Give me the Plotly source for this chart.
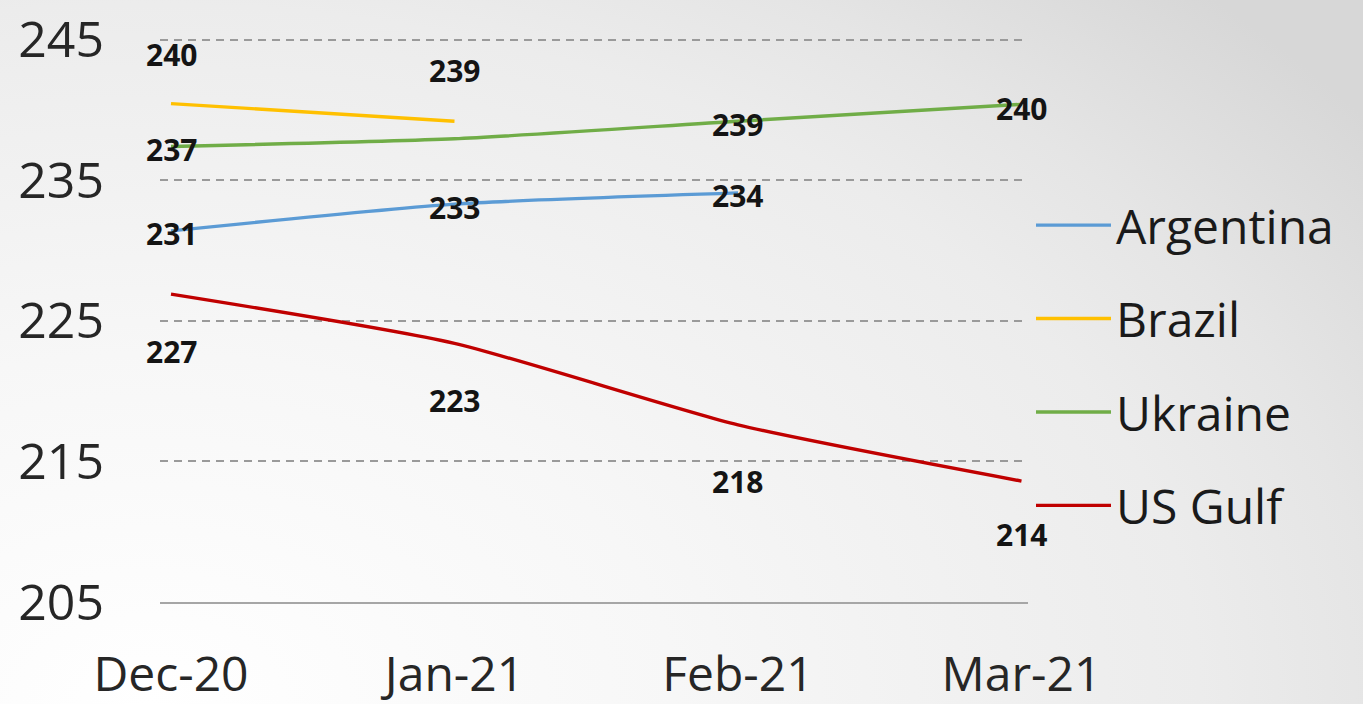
import base64
import plotly.graph_objects as go

# ---------------- data ----------------
months = ["Dec-20", "Jan-21", "Feb-21", "Mar-21"]
argentina = [231.4, 233.3, 234.1]
brazil = [240.45, 239.2]
ukraine = [237.4, 237.95, 239.2, 240.4]
us_gulf = [226.9, 223.4, 217.6, 213.6]
y_ticks = [205, 215, 225, 235, 245]

series_names = ["Argentina", "Brazil", "Ukraine", "US Gulf"]
series_values = [argentina, brazil, ukraine, us_gulf]
# which points carry a value label
label_mask = [
    [True, True, True],
    [True, True],
    [True, False, True, True],
    [True, True, True, True],
]

# ---------------- styles ----------------
colors = ["#5B9BD5", "#FFC000", "#70AD47", "#C00000"]
label_yshift = [
    [-3, -3, -3],
    [49, 51],
    [-3, 0, -3, -4],
    [-57, -57, -57, -53],
]

W, H = 1363, 704
L, R, T, B = 160, 335, 38, 102
plot_w = W - L - R
plot_h = H - T - B
Y_RANGE = [205, 245.12]

FONT = "Open Sans"

fig = go.Figure()
for name, vals, col in zip(series_names, series_values, colors):
    fig.add_trace(go.Scatter(
        x=months[:len(vals)], y=vals, name=name, mode="lines",
        line=dict(color=col, width=3.4, shape="spline", smoothing=0.6),
        legendgroup=name, hoverinfo="skip",
    ))

annotations = []
for vals, mask, shifts in zip(series_values, label_mask, label_yshift):
    for m, v, show, ys in zip(months, vals, mask, shifts):
        if not show:
            continue
        annotations.append(dict(
            x=m, y=v, xref="x", yref="y", text=f"{v:.0f}", showarrow=False,
            yshift=ys, font=dict(family=FONT, size=30, color="#141414", weight="bold"),
        ))

# background gradient as svg image
svg = f"""<svg xmlns='http://www.w3.org/2000/svg' width='{W}' height='{H}' viewBox='0 0 {W} {H}'>
<defs><radialGradient id='g' gradientUnits='userSpaceOnUse' cx='150' cy='704' r='1000'
 gradientTransform='translate(150 704) scale(1.5 1) translate(-150 -704)'>
<stop offset='0' stop-color='#ffffff'/>
<stop offset='0.35' stop-color='#f7f7f7'/>
<stop offset='0.7' stop-color='#ececec'/>
<stop offset='0.82' stop-color='#e5e5e5'/>
<stop offset='1.05' stop-color='#d7d7d7'/>
</radialGradient></defs>
<rect x='0' y='0' width='{W}' height='{H}' fill='url(#g)'/></svg>"""
src = "data:image/svg+xml;base64," + base64.b64encode(svg.encode()).decode()

fig.update_layout(
    width=W, height=H,
    margin=dict(l=L, r=R, t=T, b=B, pad=0, autoexpand=False),
    paper_bgcolor="#ffffff",
    plot_bgcolor="rgba(0,0,0,0)",
    font=dict(family=FONT, color="#262626"),
    images=[dict(
        source=src, xref="paper", yref="paper",
        x=-L / plot_w, y=1 + T / plot_h, sizex=W / plot_w, sizey=H / plot_h,
        xanchor="left", yanchor="top", sizing="stretch", layer="below",
    )],
    xaxis=dict(
        type="category", range=[-0.0388, 3.023], automargin=False,
        showgrid=False, zeroline=False,
        showline=True, linecolor="#a6a6a6", linewidth=2,
        ticks="", tickfont=dict(size=48, family=FONT, color="#262626"),
        ticklabelstandoff=29,
    ),
    yaxis=dict(
        range=Y_RANGE, tickvals=y_ticks, ticktext=[str(t) for t in y_ticks],
        automargin=False,
        showgrid=True, gridcolor="#9a9a9a", gridwidth=1.5, griddash="8px,6px",
        zeroline=False, showline=False, ticks="",
        tickfont=dict(size=50, family=FONT, color="#262626"),
        ticklabelstandoff=55,
    ),
    showlegend=True,
    legend=dict(
        x=(1031 - L) / plot_w, xanchor="left", y=0.735, yanchor="top",
        bgcolor="rgba(0,0,0,0)", font=dict(size=48, family=FONT, color="#1a1a1a"),
        itemwidth=75, tracegroupgap=28,
    ),
    annotations=annotations,
)

fig.write_html(
    "out.html",
    config={"displayModeBar": False},
    post_script="document.body.style.margin='0';",
)
